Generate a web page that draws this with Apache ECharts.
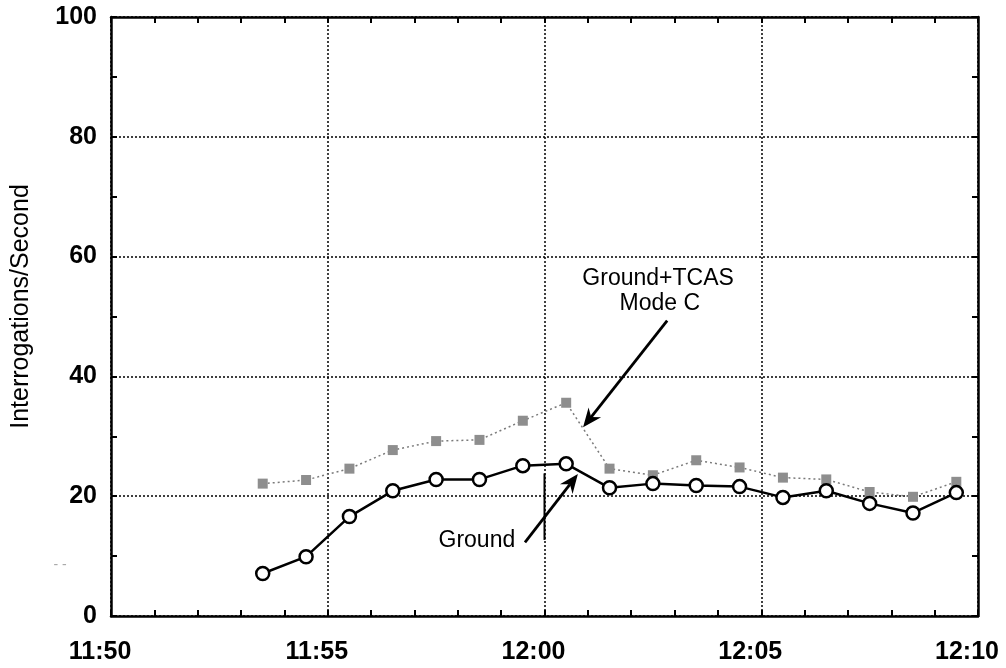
<!DOCTYPE html>
<html>
<head>
<meta charset="utf-8">
<script src="https://cdn.jsdelivr.net/npm/echarts@6/dist/echarts.min.js"></script>
<style>
  html, body { margin: 0; background: #fff; }
  #chart { width: 1006px; height: 668px; }
</style>
</head>
<body>
<div id="chart"></div>
<script>
// sample times (half minutes) and interrogation rates
const times = ['11:53:30', '11:54:30', '11:55:30', '11:56:30', '11:57:30', '11:58:30', '11:59:30', '12:00:30',
  '12:01:30', '12:02:30', '12:03:30', '12:04:30', '12:05:30', '12:06:30', '12:07:30', '12:08:30', '12:09:30'];
const ground = [7.1, 9.9, 16.6, 20.9, 22.8, 22.8, 25.1, 25.4, 21.4, 22.1, 21.8, 21.6, 19.8, 20.9, 18.8, 17.2, 20.6];
const groundTcas = [22.1, 22.7, 24.6, 27.7, 29.2, 29.4, 32.6, 35.6, 24.6, 23.5, 26.0, 24.8, 23.1, 22.8, 20.7, 19.9, 22.4];
const xTickLabels = ['11:50', '11:55', '12:00', '12:05', '12:10'];

const toMin = t => {
  const p = t.split(':').map(Number);
  return p[0] * 60 + p[1] + (p[2] || 0) / 60;
};
const xMin = toMin(xTickLabels[0]);
const xMax = toMin(xTickLabels[xTickLabels.length - 1]);

const font = 'Arial, "Liberation Sans", Helvetica, sans-serif';
const black = '#000';

const frameAxis = {
  type: 'value',
  axisLine: {show: true, onZero: false, lineStyle: {color: black, width: 2.5}},
  axisTick: {show: true, inside: true, length: 6, lineStyle: {color: black, width: 2}},
  minorTick: {show: true, splitNumber: 2, length: 6, lineStyle: {color: black, width: 2}},
  splitLine: {show: false},
  axisLabel: {show: false}
};

const chart = echarts.init(document.getElementById('chart'));
chart.setOption({
  animation: false,
  backgroundColor: '#fff',
  grid: {left: 111, right: 28, top: 17, bottom: 52},
  xAxis: [
    Object.assign({}, frameAxis, {
      position: 'bottom', min: xMin, max: xMax, interval: 5,
      minorTick: Object.assign({}, frameAxis.minorTick, {splitNumber: 5}),
      splitLine: {show: true, lineStyle: {color: black, width: 1.5, type: [2, 2]}},
      axisLabel: {
        show: true, color: black, fontFamily: font, fontSize: 25, fontWeight: 'bold',
        margin: 24, padding: [0, 22, 0, 0],
        formatter: v => xTickLabels[Math.round((v - xMin) / 5)] || ''
      }
    }),
    Object.assign({}, frameAxis, {
      position: 'top', min: xMin, max: xMax, interval: 5,
      minorTick: Object.assign({}, frameAxis.minorTick, {splitNumber: 5})
    })
  ],
  yAxis: [
    Object.assign({}, frameAxis, {
      position: 'left', min: 0, max: 100, interval: 20,
      splitLine: {show: true, lineStyle: {color: black, width: 1.5, type: [2, 2]}},
      axisLabel: {show: true, color: black, fontFamily: font, fontSize: 25, fontWeight: 'bold', margin: 14},
      name: 'Interrogations/Second', nameLocation: 'middle', nameGap: 77,
      nameTextStyle: {color: black, fontFamily: font, fontSize: 25, padding: [0, 0, 0, 20]}
    }),
    Object.assign({}, frameAxis, {position: 'right', min: 0, max: 100, interval: 20})
  ],
  series: [
    {
      name: 'Ground+TCAS Mode C',
      type: 'line',
      data: times.map((t, i) => [toMin(t), groundTcas[i]]),
      symbol: 'rect',
      symbolSize: 10,
      itemStyle: {color: '#8e8e8e'},
      lineStyle: {color: '#7a7a7a', width: 1.5, type: [2, 3]},
      z: 2
    },
    {
      name: 'Ground',
      type: 'line',
      data: times.map((t, i) => [toMin(t), ground[i]]),
      symbol: 'circle',
      symbolSize: 13,
      showAllSymbol: true,
      itemStyle: {color: '#fff', borderColor: black, borderWidth: 2.5},
      lineStyle: {color: black, width: 2.5},
      z: 3
    }
  ]
});

// annotations, placed in data coordinates
const labels = [
  {text: 'Ground+TCAS', at: [722.62, 56.3]},
  {text: 'Mode C', at: [722.66, 52.2]},
  {text: 'Ground', at: [718.44, 12.5]}
];
const arrows = [
  {from: [722.83, 49.3], to: [720.89, 31.5]},
  {from: [719.55, 12.3], to: [720.77, 23.7]}
];
const ticks = [{from: [720, 23.8], to: [720, 12.7]}];

const px = p => chart.convertToPixel({gridIndex: 0}, p);
const graphic = [];
labels.forEach(l => {
  const p = px(l.at);
  graphic.push({
    type: 'text', x: p[0], y: p[1], z: 10,
    style: {text: l.text, fill: black, font: '23px ' + font, align: 'center', verticalAlign: 'middle'}
  });
});
arrows.forEach(a => {
  const t = px(a.from), h = px(a.to);
  const len = Math.hypot(h[0] - t[0], h[1] - t[1]);
  const d = [(h[0] - t[0]) / len, (h[1] - t[1]) / len];
  const n = [-d[1], d[0]];
  const L = 19, W = 8, notch = 6;
  const back = [h[0] - d[0] * (L - notch), h[1] - d[1] * (L - notch)];
  graphic.push({
    type: 'line', z: 10,
    shape: {x1: t[0], y1: t[1], x2: back[0], y2: back[1]},
    style: {stroke: black, lineWidth: 2.8}
  });
  graphic.push({
    type: 'polygon', z: 10,
    shape: {points: [
      h,
      [h[0] - d[0] * L + n[0] * W, h[1] - d[1] * L + n[1] * W],
      back,
      [h[0] - d[0] * L - n[0] * W, h[1] - d[1] * L - n[1] * W]
    ]},
    style: {fill: black}
  });
});
ticks.forEach(s => {
  const a = px(s.from), b = px(s.to);
  graphic.push({
    type: 'line', z: 10,
    shape: {x1: a[0], y1: a[1], x2: b[0], y2: b[1]},
    style: {stroke: black, lineWidth: 2}
  });
});
// faint scanner marks left of the axis
graphic.push({
  type: 'text', x: 60, y: 565, z: 10,
  style: {text: '- -', fill: '#aaa', font: '14px ' + font, align: 'center', verticalAlign: 'middle'}
});
chart.setOption({graphic: graphic});
</script>
</body>
</html>
